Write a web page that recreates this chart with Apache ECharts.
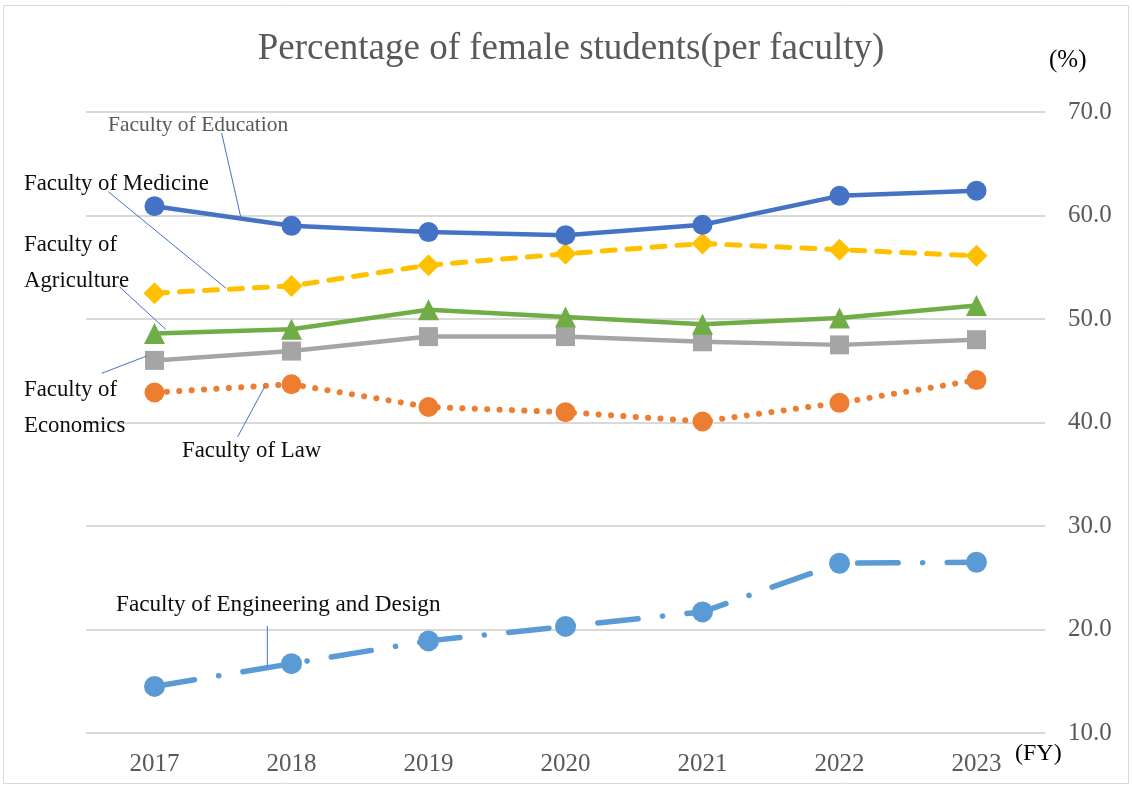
<!DOCTYPE html>
<html><head><meta charset="utf-8">
<script src="https://cdn.jsdelivr.net/npm/echarts@6/dist/echarts.min.js"></script>
<style>html,body{margin:0;padding:0;background:#fff}#c{width:1132px;height:787px}</style>
</head><body><div id="c"></div>
<script>
const years = ['2017','2018','2019','2020','2021','2022','2023'];
const education   = [60.9, 59.0, 58.4, 58.1, 59.1, 61.9, 62.4];
const medicine    = [52.5, 53.2, 55.2, 56.3, 57.3, 56.7, 56.1];
const agriculture = [48.6, 49.0, 50.9, 50.2, 49.5, 50.1, 51.3];
const economics   = [46.0, 46.9, 48.3, 48.3, 47.8, 47.5, 48.0];
const law         = [42.9, 43.7, 41.5, 41.0, 40.1, 41.9, 44.1];
const engineering = [14.5, 16.7, 18.9, 20.3, 21.7, 26.4, 26.5];
const yMin = 10, yMax = 70, yStep = 10;
const titleText = 'Percentage of female students(per faculty)';

const FONT = '"Liberation Serif", "Times New Roman", serif';
const chart = echarts.init(document.getElementById('c'), null, {renderer: 'canvas'});

function txt(text, x, y, size, fill, align) {
  return {type: 'text', x: x, y: y, silent: true, z: 50,
    style: {text: text, fill: fill, font: size + 'px ' + FONT,
      textAlign: align || 'left', textVerticalAlign: 'middle', align: align || 'left', verticalAlign: 'middle'}};
}
function ln(x1, y1, x2, y2) {
  return {type: 'line', silent: true, z: 50, shape: {x1: x1, y1: y1, x2: x2, y2: y2},
    style: {stroke: '#4472C4', lineWidth: 1}};
}

function series(name, data, color, symbol, size, lineType, width) {
  return {name: name, type: 'line', data: data, symbol: symbol, symbolSize: size,
    lineStyle: {color: color, width: width || 4.5, type: lineType || 'solid', cap: 'round'},
    itemStyle: {color: color}, emphasis: {disabled: true}};
}

chart.setOption({
  animation: false,
  backgroundColor: '#fff',
  grid: {left: 86, right: 87, top: 112, bottom: 54},
  xAxis: {type: 'category', data: years, boundaryGap: true,
    axisLine: {show: false}, axisTick: {show: false},
    axisLabel: {color: '#595959', fontSize: 25, fontFamily: FONT, margin: 19}},
  yAxis: {type: 'value', position: 'right', min: yMin, max: yMax, interval: yStep,
    axisLine: {show: false}, axisTick: {show: false},
    splitLine: {lineStyle: {color: '#d9d9d9', width: 2}},
    axisLabel: {color: '#595959', fontSize: 25, fontFamily: FONT, margin: 23,
      formatter: v => v.toFixed(1)}},
  series: [
    series('Faculty of Engineering and Design', engineering, '#5B9BD5', 'circle', 21, [40.5, 24.5, 0.1, 24.5], 5.5),
    series('Faculty of Law', law, '#ED7D31', 'circle', 20, [0.1, 12.3], 6),
    series('Faculty of Economics', economics, '#A5A5A5', 'rect', 19),
    series('Faculty of Agriculture', agriculture, '#70AD47', 'triangle', 21),
    series('Faculty of Medicine', medicine, '#FFC000', 'diamond', 22, [13, 12], 5),
    series('Faculty of Education', education, '#4472C4', 'circle', 20)
  ],
  graphic: [
    {type: 'rect', silent: true, z: -1, shape: {x: 3.5, y: 5.5, width: 1125, height: 778},
      style: {fill: 'none', stroke: '#d9d9d9', lineWidth: 1}},
    {type: 'rect', silent: true, z: 40, shape: {x: 161, y: 438, width: 204, height: 30}, style: {fill: '#fff'}},
    txt(titleText, 571, 49, 37, '#595959', 'center'),
    txt('(%)', 1049, 60, 25, '#000', 'left'),
    txt('(FY)', 1015, 754, 24, '#000', 'left'),
    txt('Faculty of Education', 108, 125, 21.5, '#595959'),
    txt('Faculty of Medicine', 24, 184, 22.8, '#0d0d0d'),
    txt('Faculty of', 24, 245, 22.8, '#0d0d0d'),
    txt('Agriculture', 24, 281, 22.8, '#0d0d0d'),
    txt('Faculty of', 24, 390, 22.8, '#0d0d0d'),
    txt('Economics', 24, 426, 22.8, '#0d0d0d'),
    txt('Faculty of Law', 182, 451, 22.8, '#0d0d0d'),
    txt('Faculty of Engineering and Design', 116, 605, 23.2, '#0d0d0d'),
    ln(221.7, 133.3, 240.7, 216.7),
    ln(108.3, 191.7, 226, 288.3),
    ln(119.3, 286.7, 165.7, 329.3),
    ln(101.7, 373.3, 146.7, 356),
    ln(237.7, 436.7, 265, 386),
    ln(267.3, 626, 267.3, 666)
  ]
});
</script>
</body></html>
